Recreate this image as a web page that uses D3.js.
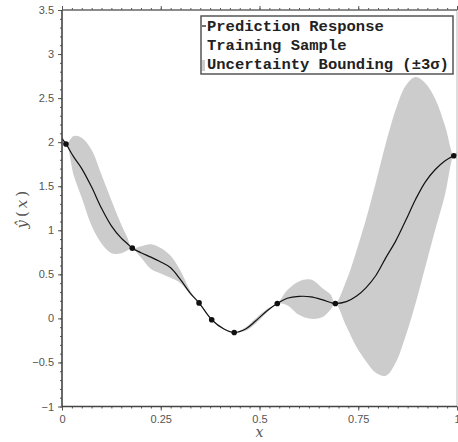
<!DOCTYPE html>
<html>
<head>
<meta charset="utf-8">
<script src="https://cdn.jsdelivr.net/npm/d3@7"></script>
<style>
  body { margin: 0; background: #fff; }
</style>
</head>
<body>
<div id="viz"></div>
<script>
var width = 458,
  height = 442;

// values
var gridX = [0, 0.01, 0.03, 0.05, 0.075, 0.1, 0.125, 0.15, 0.165, 0.178, 0.2, 0.225, 0.25, 0.275, 0.3, 0.325, 0.347, 0.379, 0.41, 0.436, 0.465, 0.49, 0.52, 0.545, 0.57, 0.6, 0.63, 0.66, 0.68, 0.692, 0.72, 0.745, 0.77, 0.795, 0.82, 0.845, 0.87, 0.895, 0.92, 0.945, 0.97, 0.992, 1.0];
var meanY = [2.04, 1.98, 1.83, 1.70, 1.49, 1.25, 1.05, 0.91, 0.85, 0.797, 0.745, 0.695, 0.64, 0.575, 0.44, 0.285, 0.176, -0.015, -0.12, -0.16, -0.12, -0.03, 0.09, 0.169, 0.228, 0.25, 0.245, 0.21, 0.18, 0.169, 0.19, 0.25, 0.35, 0.49, 0.69, 0.88, 1.11, 1.35, 1.55, 1.69, 1.79, 1.845, 1.855];
// edges of the +-3 sigma band
var upperY = [2.12, 1.98, 2.07, 2.05, 1.91, 1.63, 1.34, 1.065, 0.92, 0.797, 0.82, 0.842, 0.80, 0.71, 0.54, 0.31, 0.176, -0.015, -0.115, -0.16, -0.10, 0.0, 0.11, 0.169, 0.32, 0.42, 0.44, 0.34, 0.27, 0.169, 0.43, 0.76, 1.13, 1.55, 1.99, 2.37, 2.64, 2.74, 2.67, 2.49, 2.18, 1.845, 1.90];
var lowerY = [1.97, 1.98, 1.62, 1.37, 1.05, 0.85, 0.74, 0.74, 0.77, 0.797, 0.69, 0.56, 0.51, 0.46, 0.40, 0.27, 0.176, -0.015, -0.125, -0.16, -0.14, -0.06, 0.07, 0.169, 0.15, 0.04, -0.005, 0.015, 0.10, 0.169, -0.09, -0.32, -0.49, -0.62, -0.65, -0.50, -0.20, 0.17, 0.59, 1.01, 1.41, 1.845, 1.80];

var sampleX = [0.01, 0.178, 0.347, 0.379, 0.436, 0.545, 0.692, 0.992];
var sampleY = [1.98, 0.797, 0.176, -0.015, -0.16, 0.169, 0.169, 1.845];

var xTicks = [0, 0.25, 0.5, 0.75, 1];
var xTickLabels = ['0', '0.25', '0.5', '0.75', '1'];
var yTicks = [-1, -0.5, 0, 0.5, 1, 1.5, 2, 2.5, 3, 3.5];
var yTickLabels = ['\u22121', '\u22120.5', '0', '0.5', '1', '1.5', '2', '2.5', '3', '3.5'];

var legendLabels = ['Prediction Response', 'Training Sample', 'Uncertainty Bounding (\u00b13\u03c3)'];

var plotLeft = 62, plotRight = 457, plotTop = 10, plotBottom = 406.5;
var axisColor = '#555';
var tickFont = '"Liberation Sans", Arial, sans-serif';

var x = d3.scaleLinear().domain([0, 1]).range([plotLeft, plotRight]);
var y = d3.scaleLinear().domain([-1, 3.5]).range([plotBottom, plotTop]);

var curveData = gridX.map(function (d, i) {
  return { x: d, m: meanY[i], hi: upperY[i], lo: lowerY[i] };
});
var samples = sampleX.map(function (d, i) {
  return { x: d, y: sampleY[i] };
});

var svg = d3.select('#viz').append('svg')
  .attr('width', width)
  .attr('height', height);

svg.append('rect')
  .attr('width', width)
  .attr('height', height)
  .attr('fill', '#fff');

svg.append('defs').append('clipPath')
  .attr('id', 'plotClip')
  .append('rect')
  .attr('x', plotLeft)
  .attr('y', plotTop)
  .attr('width', plotRight - plotLeft)
  .attr('height', plotBottom - plotTop);

var plot = svg.append('g').attr('clip-path', 'url(#plotClip)');

// uncertainty band
var band = d3.area()
  .curve(d3.curveCatmullRom.alpha(0.5))
  .x(function (d) { return x(d.x); })
  .y0(function (d) { return y(d.lo); })
  .y1(function (d) { return y(d.hi); });

plot.append('path')
  .datum(curveData)
  .attr('d', band)
  .attr('fill', '#cccccc');

// prediction line
var line = d3.line()
  .curve(d3.curveCatmullRom.alpha(0.5))
  .x(function (d) { return x(d.x); })
  .y(function (d) { return y(d.m); });

plot.append('path')
  .datum(curveData)
  .attr('d', line)
  .attr('fill', 'none')
  .attr('stroke', '#111')
  .attr('stroke-width', 1.2);

plot.selectAll('circle.sample')
  .data(samples)
  .enter().append('circle')
  .attr('class', 'sample')
  .attr('cx', function (d) { return x(d.x); })
  .attr('cy', function (d) { return y(d.y); })
  .attr('r', 2.8)
  .attr('fill', '#111');

// axes
var xMinor = d3.range(0, 1.0001, 0.025);
var yMinor = d3.range(-1, 3.5001, 0.1);

function styleAxis(g) {
  g.select('.domain').remove();
  g.selectAll('line').attr('stroke', axisColor).attr('stroke-width', 1);
  g.selectAll('text')
    .attr('fill', axisColor)
    .style('font-family', tickFont)
    .style('font-size', '11px');
}

svg.append('g')
  .attr('transform', 'translate(0,' + plotBottom + ')')
  .call(d3.axisBottom(x).tickValues(xMinor).tickSize(2).tickFormat(''))
  .call(styleAxis);
svg.append('g')
  .attr('transform', 'translate(0,' + plotBottom + ')')
  .call(d3.axisBottom(x).tickValues(xTicks).tickSize(4).tickPadding(5)
    .tickFormat(function (d, i) { return xTickLabels[i]; }))
  .call(styleAxis);

svg.append('g')
  .attr('transform', 'translate(0,' + plotTop + ')')
  .call(d3.axisTop(x).tickValues(xMinor).tickSize(2).tickFormat(''))
  .call(styleAxis);
svg.append('g')
  .attr('transform', 'translate(0,' + plotTop + ')')
  .call(d3.axisTop(x).tickValues(xTicks).tickSize(4).tickFormat(''))
  .call(styleAxis);

svg.append('g')
  .attr('transform', 'translate(' + plotLeft + ',0)')
  .call(d3.axisLeft(y).tickValues(yMinor).tickSize(2).tickFormat(''))
  .call(styleAxis);
svg.append('g')
  .attr('transform', 'translate(' + plotLeft + ',0)')
  .call(d3.axisLeft(y).tickValues(yTicks).tickSize(4).tickPadding(4)
    .tickFormat(function (d, i) { return yTickLabels[i]; }))
  .call(styleAxis);

// frame
svg.append('line')
  .attr('x1', plotRight).attr('x2', plotRight).attr('y1', plotTop).attr('y2', plotBottom)
  .attr('stroke', '#bbb').attr('stroke-width', 1);
svg.append('line')
  .attr('x1', plotLeft).attr('x2', plotRight).attr('y1', plotTop).attr('y2', plotTop)
  .attr('stroke', '#666').attr('stroke-width', 1.5);
svg.append('line')
  .attr('x1', plotLeft).attr('x2', plotLeft).attr('y1', plotTop).attr('y2', plotBottom)
  .attr('stroke', '#444').attr('stroke-width', 1.6);
svg.append('line')
  .attr('x1', plotLeft).attr('x2', plotRight).attr('y1', plotBottom).attr('y2', plotBottom)
  .attr('stroke', '#444').attr('stroke-width', 1.6);

// axis titles
svg.append('text')
  .attr('x', x(0.5))
  .attr('y', 437)
  .attr('text-anchor', 'middle')
  .attr('fill', axisColor)
  .style('font-family', '"DejaVu Serif", "Liberation Serif", serif')
  .style('font-style', 'italic')
  .style('font-size', '14px')
  .text('x');

var yTitle = svg.append('text')
  .attr('transform', 'translate(27,' + ((plotTop + plotBottom) / 2) + ') rotate(-90)')
  .attr('text-anchor', 'middle')
  .attr('fill', axisColor)
  .style('font-family', '"DejaVu Serif", "Liberation Serif", serif')
  .style('font-size', '15px')
  .style('letter-spacing', '3px');
yTitle.append('tspan').style('font-style', 'italic').text('\u0177');
yTitle.append('tspan').text('(');
yTitle.append('tspan').style('font-style', 'italic').text('x');
yTitle.append('tspan').text(')');

// legend
var legend = svg.append('g');
legend.append('rect')
  .attr('x', 201)
  .attr('y', 16)
  .attr('width', 252)
  .attr('height', 58)
  .attr('fill', '#fff')
  .attr('stroke', '#555')
  .attr('stroke-width', 1.5);

legend.append('line')
  .attr('x1', 202).attr('x2', 206).attr('y1', 26).attr('y2', 26)
  .attr('stroke', '#111').attr('stroke-width', 1.2);
legend.append('rect')
  .attr('x', 202).attr('y', 60).attr('width', 3).attr('height', 11)
  .attr('fill', '#cccccc');

legend.selectAll('text.item')
  .data(legendLabels)
  .enter().append('text')
  .attr('class', 'item')
  .attr('x', 207)
  .attr('y', function (d, i) { return 30.5 + i * 19; })
  .attr('fill', '#222')
  .style('font-family', '"Courier New", "Liberation Mono", monospace')
  .style('font-weight', 'bold')
  .style('font-size', '15.5px')
  .text(function (d) { return d; });
</script>
</body>
</html>
